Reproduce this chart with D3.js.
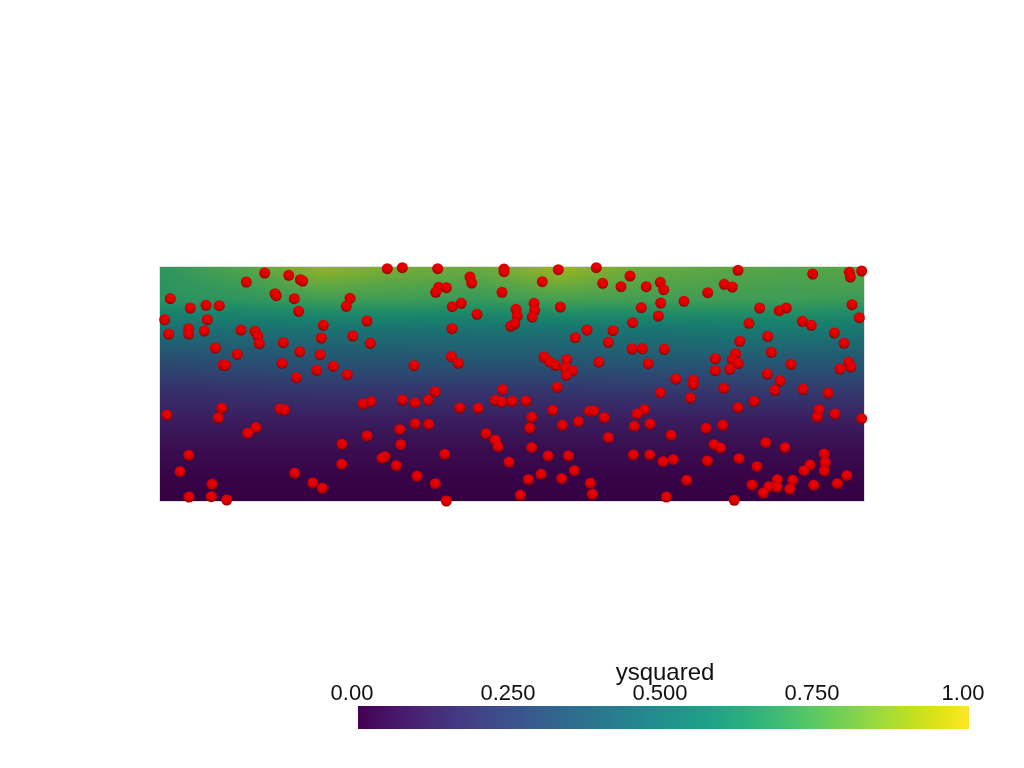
<!DOCTYPE html>
<html><head><meta charset="utf-8">
<script src="https://cdn.jsdelivr.net/npm/d3@7"></script>
<style>html,body{margin:0;padding:0;background:#fff;width:1024px;height:768px;overflow:hidden}
#wrap{position:relative;width:1024px;height:768px}canvas,svg{position:absolute;left:0;top:0}
text{font-family:"Liberation Sans",Arial,sans-serif;fill:#111}</style></head>
<body><div id="wrap"><canvas id="c" width="1024" height="768"></canvas><svg id="s" width="1024" height="768"></svg></div>
<script>
// positions are in plane units: x 0..704, y 0..234
const fieldX=[0,90,160,240,320,400,480,560,630,704];
const fieldY=[0,21,51,81,111,141,171,201,234];
const fieldV=[
[0,0,0,0,0,0,0,0,0,0],
[.01,.01,.01,.01,.01,.01,.01,.01,.01,.01],
[.04,.04,.04,.04,.04,.04,.04,.04,.04,.04],
[.10,.10,.10,.10,.10,.10,.10,.10,.10,.11],
[.17,.19,.20,.20,.20,.20,.21,.21,.22,.22],
[.30,.32,.34,.34,.35,.35,.36,.36,.36,.36],
[.47,.48,.49,.49,.49,.49,.50,.52,.53,.51],
[.66,.68,.72,.72,.70,.74,.73,.72,.72,.71],
[.68,.78,.90,.84,.82,.92,.82,.79,.77,.79]];
const points=[[227.3,232.3],[242.3,233.3],[277.7,232.3],[344,232],[344,229.3],[104.7,228],[128.7,225.7],[140.3,221.3],[142.7,220],[86.3,219],[310,224],[311.7,218],[278.7,213.7],[286.3,213.3],[275.7,208.7],[342,208.7],[115,207.3],[116.3,205.3],[10.3,202.3],[134.3,202.3],[190,202.7],[186.3,194.7],[30.3,193],[46,195.7],[59.3,195.3],[138.7,189.7],[292.3,194.3],[301.3,197.7],[317,186.7],[4.7,181.3],[47.3,181.3],[207,180],[163.3,175.7],[350.7,174.7],[292,172.3],[28.7,172.3],[28.7,167],[8.7,167],[44.3,170],[81,171],[95,169.7],[97.7,165],[99.3,157.3],[161.3,163],[192.7,165],[210.3,157.7],[123.3,158.3],[55.3,153],[139.7,149.3],[77.3,146.7],[160,146.3],[291.3,144.3],[298.3,137.7],[122,137.7],[63,136],[65.3,135.7],[173.3,134.7],[254,135.3],[156.7,130.7],[187.3,126.3],[136.3,123.3],
[398.3,231.3],[436.3,233.3],[578,230.7],[652.7,227],[689.3,228.7],[690.3,224],[701.7,230],[382.3,219.3],[442.7,217.7],[470,225],[461,214.3],[486.3,214.3],[500.3,218.7],[503.7,211.3],[564.3,216.7],[572.3,214],[547.7,208.3],[524,199.7],[500.7,198],[481.3,193.3],[400.3,194],[374,197.7],[374.7,190.7],[356,191.7],[357.3,185],[372.3,184],[354.7,177],[498.3,185],[472.7,178.3],[599.7,193],[619.3,190.3],[626.3,193],[692,196.3],[699.3,183.3],[589,177.7],[642.3,179.7],[651.3,175.7],[427,171],[453,170.3],[415.3,163.3],[448.3,158.7],[607.7,164.7],[674.3,168],[684,157.7],[579.7,159.7],[472,152],[482.3,152.3],[504.3,151.7],[575.7,147.3],[611.3,148.7],[572.3,141.3],[578.3,137.3],[555.3,142.3],[555.3,130.3],[569.7,131.7],[384,144],[389.3,139.3],[395.3,135.7],[406.7,141.3],[405.3,132.7],[412.7,130.3],[406.3,125.7],[439,139],[488.3,137.3],[631,136.7],[688.7,138.7],[691,134],[680,132],[607.3,127],[620,120],[515.7,122],[533.3,120.7],[533.3,116.7],[397.3,113.7],[563.7,112.7],
[275.3,109.3],[342.7,111.3],[335.3,100.7],[341.7,99],[352.3,99.7],[203,97],[211,99.3],[242.3,101],[255,98],[268,101],[299.7,93],[318.3,92.7],[61.7,92.7],[120,92],[124.7,91],[7,86],[58.3,83],[96,73.3],[87.7,67.7],[255.3,77.3],[268.7,76.7],[239.7,71.3],[326,67.3],[335.3,60.7],[338,54.3],[207,65],[182,56.7],[240.7,56.3],[284.7,46.7],[225,44.3],[222,42.7],[28.7,45.7],[181.7,36.7],[236.3,35.3],[349,38.7],[20,29.3],[134.7,27.7],[257,24.7],[52,16.7],[152.7,18],[162.3,12.7],[275.3,17.3],[29,4],[51.3,4.3],[66.7,1],[286.3,0],
[366,100],[500.3,108.3],[530.3,103],[614.7,110.7],[643,111.7],[668,108],[578,93.3],[594,99.7],[371.7,83.7],[369.7,72.7],[392.7,90.7],[402.3,75.7],[418.3,79.3],[429.3,89.7],[433.7,90],[444.3,83.3],[448.3,63.3],[484.3,91.3],[477,87],[474.3,74.7],[490,77],[511,65.7],[546,72.7],[562.7,75.7],[554,56.3],[560.7,53],[605.7,58.3],[625,53.3],[659,91.3],[657.3,84],[675,87],[701.7,82.3],[371.7,53.3],[388,45],[408.3,45],[473.3,46],[489.7,46],[503,39.3],[513.3,41.3],[547.3,40],[579,42.3],[597,34.3],[664.3,47],[665.3,38.3],[650,36],[644,30.3],[664.3,30],[414.3,30.3],[381,26.7],[368.3,21.3],[401.7,22.3],[430.3,17.7],[432.3,6.7],[360.3,5.7],[526.7,20.7],[686.7,25.3],[677.3,17.3],[653.7,15.7],[632.7,20.7],[629.7,11.7],[617.3,21.3],[617,13.7],[608.7,14.3],[592,16],[603.3,8],[506.3,4],[574.3,.7]];
const tickLabels=["0.00","0.250","0.500","0.750","1.00"];
const barTitle="ysquared";

const xS=d3.scaleLinear().domain([0,704]).range([160,864]);
const yS=d3.scaleLinear().domain([0,234]).range([501,267]);
const shade=0.8;
const col=v=>{const c=d3.rgb(d3.interpolateViridis(v));return [c.r*shade,c.g*shade,c.b*shade];};
function fieldAt(x,y){
 const i=Math.max(0,Math.min(d3.bisectRight(fieldX,x)-1,fieldX.length-2));
 const j=Math.max(0,Math.min(d3.bisectRight(fieldY,y)-1,fieldY.length-2));
 const tx=(x-fieldX[i])/(fieldX[i+1]-fieldX[i]),ty=(y-fieldY[j])/(fieldY[j+1]-fieldY[j]);
 const a=fieldV[j][i]*(1-tx)+fieldV[j][i+1]*tx,b=fieldV[j+1][i]*(1-tx)+fieldV[j+1][i+1]*tx;
 return a*(1-ty)+b*ty;
}
const ctx=document.getElementById("c").getContext("2d");
const [x0,x1]=xS.range(),[y1,y0]=yS.range();
const img=ctx.createImageData(x1-x0,y1-y0);
for(let py=y0;py<y1;py++)for(let px=x0;px<x1;px++){
 const c=col(fieldAt(xS.invert(px+.5),yS.invert(py+.5)));
 const k=((py-y0)*(x1-x0)+(px-x0))*4;
 img.data[k]=c[0];img.data[k+1]=c[1];img.data[k+2]=c[2];img.data[k+3]=255;
}
ctx.putImageData(img,x0,y0);

const svg=d3.select("#s");
svg.append("rect").attr("x",x0-.5).attr("y",y0-.5).attr("width",x1-x0+1).attr("height",y1-y0+1)
 .attr("fill","none").attr("stroke","#999").attr("stroke-opacity",.3);
const g=svg.append("defs").append("radialGradient").attr("id","ball").attr("cx","50%").attr("cy","36%").attr("r","68%");
[[0,"#f00000"],[.5,"#dc0000"],[.8,"#b00000"],[1,"#700000"]].forEach(s=>g.append("stop").attr("offset",s[0]).attr("stop-color",s[1]));
svg.append("g").selectAll("circle").data(points).join("circle")
 .attr("cx",d=>xS(d[0])).attr("cy",d=>yS(d[1])).attr("r",5.5).attr("fill","url(#ball)");

const bS=d3.scaleLinear().domain([0,1]).range([358,969]);
const steps=d3.range(256).map(i=>i/256);
svg.append("g").attr("shape-rendering","crispEdges").selectAll("rect").data(steps).join("rect")
 .attr("x",d=>bS(d)).attr("y",706).attr("width",d=>Math.min(bS(1/256)-bS(0)+1,969-bS(d))).attr("height",23)
 .attr("fill",d=>d3.interpolateViridis(d+1/512));
const lx=[352,508,660,812,963];
svg.append("g").selectAll("text").data(tickLabels).join("text")
 .attr("x",(d,i)=>lx[i]).attr("y",700).attr("text-anchor","middle").attr("font-size",22).text(d=>d);
svg.append("text").attr("x",665).attr("y",680).attr("text-anchor","middle").attr("font-size",24).text(barTitle);
</script></body></html>
